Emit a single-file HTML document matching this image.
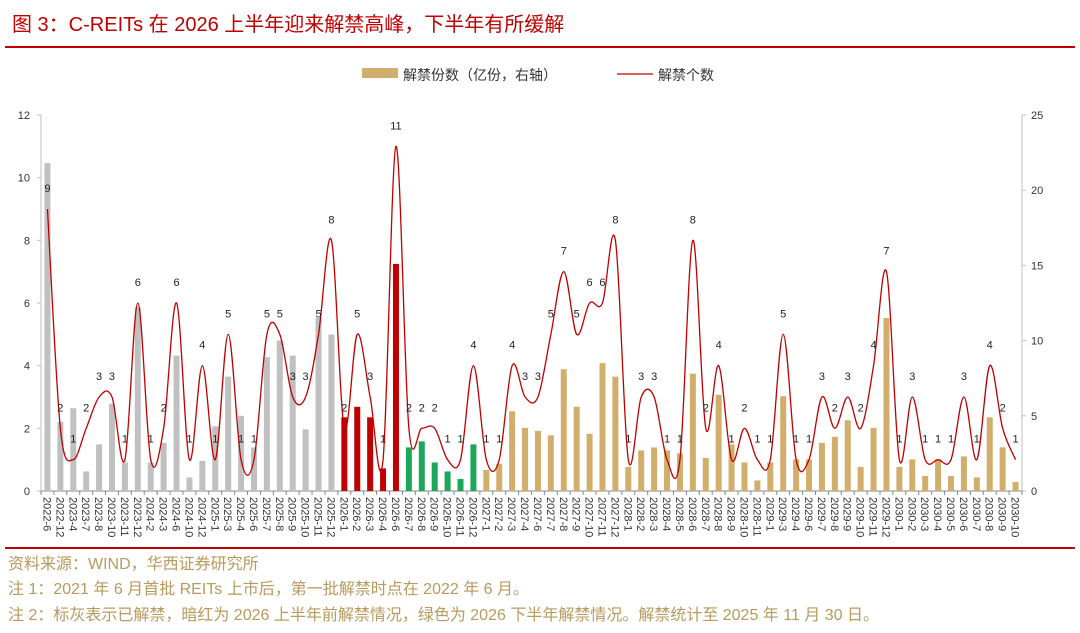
<!DOCTYPE html>
<html><head><meta charset="utf-8"><style>
body{margin:0;background:#fff;width:1080px;height:633px;overflow:hidden;font-family:"Liberation Sans","Noto Sans CJK SC",sans-serif}
.t{position:absolute;left:12px;top:8px;font-size:20px;color:#c00000;white-space:nowrap}
.hr{position:absolute;left:5px;width:1070px;height:2px;background:#c00000}
.n{position:absolute;left:8px;font-size:16px;color:#b8995e;white-space:nowrap}
</style></head><body>
<div class="t">图 3：C-REITs 在 2026 上半年迎来解禁高峰，下半年有所缓解</div>
<div class="hr" style="top:46px"></div>
<div class="hr" style="top:547px"></div>
<div class="n" style="top:550px">资料来源：WIND，华西证券研究所</div>
<div class="n" style="top:575px">注 1：2021 年 6 月首批 REITs 上市后，第一批解禁时点在 2022 年 6 月。</div>
<div class="n" style="top:601px">注 2：标灰表示已解禁，暗红为 2026 上半年前解禁情况，绿色为 2026 下半年解禁情况。解禁统计至 2025 年 11 月 30 日。</div>
<svg id="s" width="1080" height="633" style="position:absolute;left:0;top:0" xmlns="http://www.w3.org/2000/svg"></svg>
<script>
(function(){
var L="2022-6,2022-12,2023-4,2023-7,2023-8,2023-10,2023-11,2023-12,2024-2,2024-3,2024-6,2024-10,2024-12,2025-1,2025-3,2025-4,2025-6,2025-7,2025-8,2025-9,2025-10,2025-11,2025-12,2026-1,2026-2,2026-3,2026-4,2026-6,2026-7,2026-8,2026-9,2026-10,2026-11,2026-12,2027-1,2027-2,2027-3,2027-4,2027-6,2027-7,2027-8,2027-9,2027-10,2027-11,2027-12,2028-1,2028-2,2028-3,2028-4,2028-5,2028-6,2028-7,2028-8,2028-9,2028-10,2028-11,2029-1,2029-3,2029-4,2029-6,2029-7,2029-8,2029-9,2029-10,2029-11,2029-12,2030-1,2030-2,2030-3,2030-4,2030-5,2030-6,2030-7,2030-8,2030-9,2030-10".split(",");
var C=[9,2,1,2,3,3,1,6,1,2,6,1,4,1,5,1,1,5,5,3,3,5,8,2,5,3,1,11,2,2,2,1,1,4,1,1,4,3,3,5,7,5,6,6,8,1,3,3,1,1,8,2,4,1,2,1,1,5,1,1,3,2,3,2,4,7,1,3,1,1,1,3,1,4,2,1];
var B=[21.8,4.6,5.5,1.3,3.1,5.8,1.9,12.2,1.9,3.2,9.0,0.9,2.0,4.3,7.6,5.0,2.9,8.9,10.0,9.0,4.1,11.5,10.4,4.9,5.6,4.9,1.5,15.1,2.9,3.3,1.9,1.3,0.8,3.1,1.4,1.8,5.3,4.2,4.0,3.7,8.1,5.6,3.8,8.5,7.6,1.6,2.7,2.9,2.7,2.5,7.8,2.2,6.4,3.1,1.9,0.7,1.9,6.3,2.1,2.1,3.2,3.6,4.7,1.6,4.2,11.5,1.6,2.1,1.0,2.1,1.0,2.3,0.9,4.9,2.9,0.6];
var x0=41,w=981,n=76,bw=w/n,y0=491,T=115,H=y0-T;
function cx(i){return x0+bw*(i+0.5)}
function yl(v){return y0-v/12*H}
function yr(v){return y0-v/25*H}
var s='';
s+='<rect x="362" y="68" width="36" height="10" fill="#d1ae6b"/><text x="403" y="80" font-size="14" fill="#333">解禁份数（亿份，右轴）</text>';
s+='<line x1="617" y1="74" x2="653" y2="74" stroke="#c00000" stroke-width="1.3"/><text x="658" y="80" font-size="14" fill="#333">解禁个数</text>';
s+='<line x1="'+x0+'" y1="'+T+'" x2="'+x0+'" y2="'+y0+'" stroke="#bfbfbf"/>';
s+='<line x1="1022" y1="'+T+'" x2="1022" y2="'+y0+'" stroke="#bfbfbf"/>';
s+='<line x1="'+x0+'" y1="'+y0+'" x2="1022" y2="'+y0+'" stroke="#888"/>';
for(var v=0;v<=12;v+=2){var y=yl(v);s+='<line x1="37" y1="'+y+'" x2="41" y2="'+y+'" stroke="#bfbfbf"/><text x="30" y="'+(y+4)+'" font-size="11" fill="#333" text-anchor="end">'+v+'</text>';}
for(var v=0;v<=25;v+=5){var y=yr(v);s+='<line x1="1022" y1="'+y+'" x2="1026" y2="'+y+'" stroke="#bfbfbf"/><text x="1031" y="'+(y+4)+'" font-size="11" fill="#333">'+v+'</text>';}
for(var i=0;i<=n;i++){var x=x0+bw*i;s+='<line x1="'+x+'" y1="'+y0+'" x2="'+x+'" y2="'+(y0+4)+'" stroke="#888"/>';}
for(var i=0;i<n;i++){var col=i<=22?'#c0c0c0':i<=27?'#c00000':i<=33?'#1ea65a':'#d1ae6b';var y=yr(B[i]);
s+='<rect x="'+(cx(i)-3)+'" y="'+y+'" width="6" height="'+(y0-y)+'" fill="'+col+'"/>';
s+='<text transform="translate('+(cx(i)-4)+','+(y0+6)+') rotate(90)" font-size="11" fill="#333">'+L[i]+'</text>';}
var P=C.map(function(v,i){return [cx(i),yl(v)]});
var d='M'+P[0][0]+','+P[0][1];
for(var i=0;i<n-1;i++){var p0=P[Math.max(0,i-1)],p1=P[i],p2=P[i+1],p3=P[Math.min(n-1,i+2)];
d+=' C'+(p1[0]+(p2[0]-p0[0])/6)+','+(p1[1]+(p2[1]-p0[1])/6)+' '+(p2[0]-(p3[0]-p1[0])/6)+','+(p2[1]-(p3[1]-p1[1])/6)+' '+p2[0]+','+p2[1];}
s+='<path d="'+d+'" fill="none" stroke="#c00000" stroke-width="1.3"/>';
for(var i=0;i<n;i++){s+='<text x="'+cx(i)+'" y="'+(P[i][1]-17)+'" font-size="11" fill="#222" text-anchor="middle">'+C[i]+'</text>';}
document.getElementById('s').innerHTML=s;
})();
</script>
</body></html>
